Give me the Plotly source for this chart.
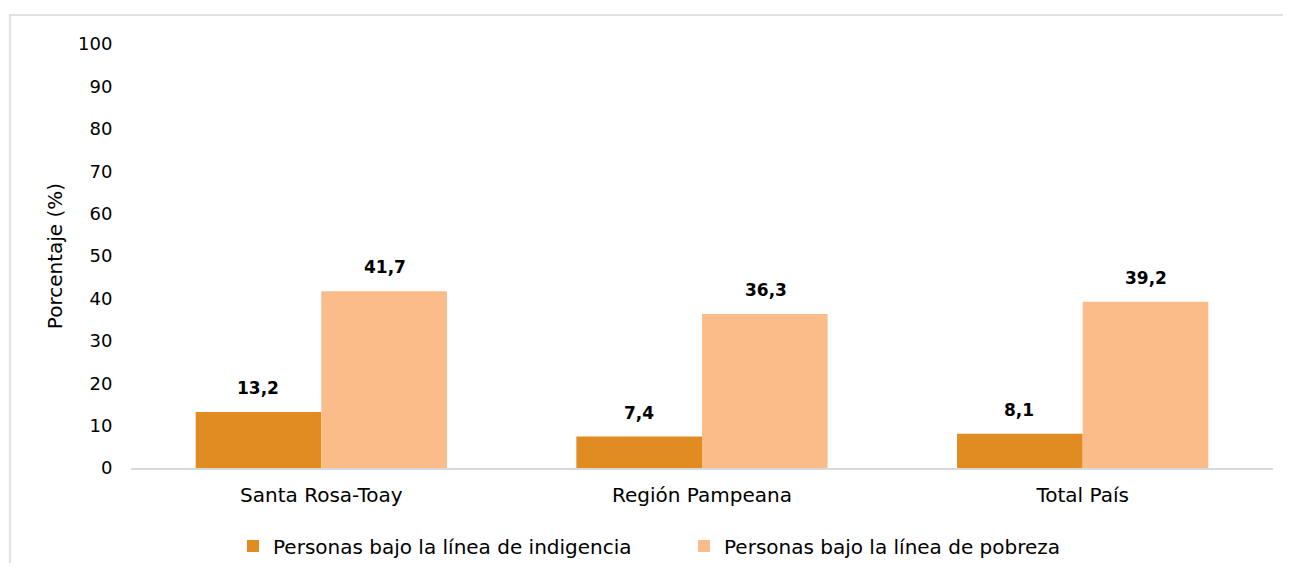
import plotly.graph_objects as go

categories = ["Santa Rosa-Toay", "Región Pampeana", "Total País"]
indigencia = [13.2, 7.4, 8.1]
pobreza = [41.7, 36.3, 39.2]
series_names = ["Personas bajo la línea de indigencia", "Personas bajo la línea de pobreza"]
colors = ["#E08C20", "#FBBC89"]
y_ticks = list(range(0, 101, 10))

FONT = "DejaVu Sans"
W, H = 1275, 555
L, T, R, B = 123, 36, 10, 95
PW, PH = W - L - R, H - T - B

fig = go.Figure()
for name, vals, col in zip(series_names, [indigencia, pobreza], colors):
    fig.add_trace(go.Bar(x=categories, y=vals, name=name, marker_color=col,
                         marker_line_width=0))

annotations = []
for vals, shift in [(indigencia, -63.5), (pobreza, 63.5)]:
    for c, v in zip(categories, vals):
        annotations.append(dict(x=c, y=v, xref="x", yref="y", xshift=shift, yshift=12,
                                yanchor="bottom", showarrow=False,
                                text="<b>" + f"{v:.1f}".replace(".", ",") + "</b>",
                                font=dict(family=FONT, size=17, color="#000000")))

fig.update_layout(
    width=W, height=H,
    margin=dict(l=L, r=R, t=T, b=B, autoexpand=False),
    paper_bgcolor="white", plot_bgcolor="white",
    barmode="group", bargap=0.34, bargroupgap=0,
    font=dict(family=FONT, size=18, color="#000000"),
    showlegend=True,
    legend=dict(orientation="h", xref="container", yref="container",
                x=225 / W, xanchor="left", y=(H - 538) / H, yanchor="middle",
                font=dict(family=FONT, size=20, color="#000000"), itemwidth=30,
                tracegroupgap=0, entrywidth=406),
    annotations=annotations,
    shapes=[dict(type="rect", xref="paper", yref="paper",
                 x0=(2 - L) / PW, x1=1.05, y0=-0.4, y1=(H - B - 7) / PH,
                 line=dict(color="#D9D9D9", width=1.5), fillcolor="rgba(0,0,0,0)", layer="below")],
)
fig.update_xaxes(showline=True, linecolor="#D9D9D9", linewidth=1.5, showgrid=False,
                 ticks="outside", ticklen=8, tickcolor="rgba(0,0,0,0)",
                 tickfont=dict(family=FONT, size=20))
fig.update_yaxes(range=[0, 100], tickvals=y_ticks, showgrid=False, showline=False,
                 zeroline=False, ticks="outside", ticklen=14, tickcolor="rgba(0,0,0,0)",
                 tickfont=dict(family=FONT, size=18),
                 title=dict(text="Porcentaje (%)", standoff=10, font=dict(family=FONT, size=20)))
fig.write_html("out.html")
